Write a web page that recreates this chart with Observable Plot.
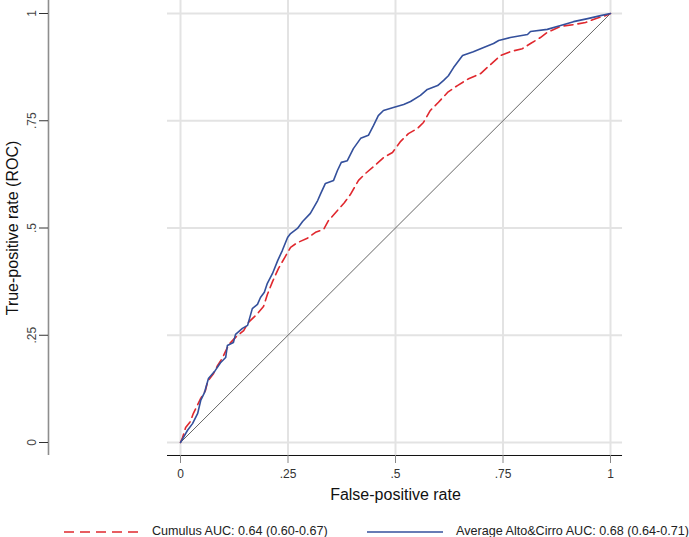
<!DOCTYPE html>
<html><head><meta charset="utf-8">
<script src="https://cdn.jsdelivr.net/npm/d3@7"></script>
<script src="https://cdn.jsdelivr.net/npm/@observablehq/plot@0.6"></script>
<style>
body{margin:0;background:#fff;font-family:"Liberation Sans",Arial,sans-serif;}
#wrap{position:relative;width:689px;height:537px;overflow:hidden;}
#wrap svg{display:block;}
.leg{position:absolute;top:523px;font-size:12.6px;line-height:16px;color:#222;white-space:nowrap;}
.sw{position:absolute;top:530px;}
</style></head><body><div id="wrap"></div>
<script>
const seriesNames = ["Cumulus", "Average Alto&Cirro"];
const seriesLabels = ["Cumulus AUC: 0.64 (0.60-0.67)", "Average Alto&Cirro AUC: 0.68 (0.64-0.71)"];
const seriesColors = ["#e0282e", "#34509c"];
const seriesDash = ["9,5", null];

const cumulusFPR = [0,0.005,0.012,0.023,0.030,0.047,0.058,0.063,0.077,0.086,0.098,0.112,0.128,0.147,0.158,0.177,0.193,0.202,0.214,0.228,0.244,0.256,0.272,0.295,0.314,0.333,0.344,0.365,0.381,0.395,0.414,0.430,0.449,0.472,0.493,0.512,0.530,0.551,0.565,0.581,0.600,0.621,0.644,0.670,0.698,0.721,0.744,0.767,0.795,0.814,0.837,0.853,0.884,0.914,0.942,0.965,0.988,1];
const cumulusTPR = [0,0.012,0.035,0.049,0.068,0.103,0.121,0.142,0.161,0.179,0.198,0.228,0.245,0.261,0.280,0.298,0.317,0.345,0.375,0.406,0.434,0.455,0.466,0.476,0.490,0.497,0.517,0.541,0.559,0.578,0.611,0.627,0.643,0.664,0.676,0.702,0.720,0.732,0.746,0.774,0.793,0.816,0.832,0.848,0.860,0.881,0.902,0.911,0.918,0.930,0.944,0.956,0.970,0.974,0.979,0.988,0.995,1];

const altoFPR = [0,0.007,0.016,0.028,0.040,0.047,0.056,0.065,0.081,0.093,0.105,0.109,0.123,0.128,0.144,0.156,0.167,0.179,0.186,0.195,0.202,0.214,0.226,0.237,0.249,0.256,0.272,0.284,0.302,0.319,0.326,0.337,0.356,0.365,0.374,0.388,0.402,0.419,0.437,0.449,0.460,0.472,0.495,0.519,0.535,0.558,0.574,0.598,0.612,0.623,0.635,0.656,0.681,0.705,0.728,0.740,0.767,0.807,0.814,0.853,0.884,0.914,0.947,0.977,1];
const altoTPR = [0,0.012,0.028,0.044,0.068,0.098,0.117,0.149,0.168,0.186,0.198,0.226,0.233,0.252,0.266,0.273,0.312,0.322,0.338,0.350,0.371,0.394,0.424,0.448,0.478,0.487,0.499,0.515,0.534,0.564,0.580,0.604,0.611,0.634,0.653,0.657,0.685,0.709,0.716,0.739,0.762,0.774,0.781,0.788,0.795,0.809,0.823,0.832,0.844,0.855,0.874,0.902,0.911,0.921,0.930,0.937,0.944,0.951,0.958,0.963,0.972,0.981,0.988,0.995,1];

const tickValues = [0, 0.25, 0.5, 0.75, 1];
const tickLabels = ["0", ".25", ".5", ".75", "1"];
const xTitle = "False-positive rate";
const yTitle = "True-positive rate (ROC)";

const cumulus = cumulusFPR.map((x, i) => ({x, y: cumulusTPR[i]}));
const alto = altoFPR.map((x, i) => ({x, y: altoTPR[i]}));
const diag = [tickValues[0], tickValues[tickValues.length - 1]].map(v => ({x: v, y: v}));
const fmt = d => tickLabels[tickValues.indexOf(d)];

// plot region extents (slightly beyond 0..1, as in the reference)
const gx0 = -0.0302, gx1 = 1.028, gy0 = -0.0303, gy1 = 1.031;
const yAxisAt = -0.307;
const H = 522;

const chart = Plot.plot({
  width: 689, height: H,
  marginLeft: 48, marginRight: 67, marginTop: 0, marginBottom: H - 455,
  style: {fontFamily: "'Liberation Sans', Arial, sans-serif", fontSize: "12px", background: "#fff"},
  x: {domain: [0, 1], range: [180, 610]},
  y: {domain: [0, 1], range: [442, 13]},
  marks: [
    Plot.ruleY(tickValues, {x1: gx0, x2: gx1, stroke: "#e3e3e3", strokeWidth: 2}),
    Plot.ruleX(tickValues, {y1: gy0, y2: gy1, stroke: "#e3e3e3", strokeWidth: 2}),
    Plot.ruleY([gy0], {x1: gx0, x2: gx1, stroke: "#111", strokeWidth: 1}),
    Plot.ruleX([yAxisAt], {y1: gy0, y2: gy1, stroke: "#8e8e8e", strokeWidth: 1.6}),
    Plot.line(diag, {x: "x", y: "y", stroke: "#555", strokeWidth: 0.9}),
    Plot.line(cumulus, {x: "x", y: "y", stroke: seriesColors[0], strokeWidth: 1.6, strokeDasharray: seriesDash[0]}),
    Plot.line(alto, {x: "x", y: "y", stroke: seriesColors[1], strokeWidth: 1.6}),
    Plot.axisX(tickValues, {anchor: "bottom", tickSize: 8, tickPadding: 6, tickFormat: fmt, stroke: "#888", fill: "#333", fontSize: 12, label: null}),
    Plot.axisY(tickValues, {anchor: "left", tickSize: 9, tickPadding: 4, tickRotate: -90, tickFormat: fmt, stroke: "#333", fill: "#444", fontSize: 12, label: null}),
    Plot.text([xTitle], {x: 0.5, frameAnchor: "bottom", dy: 39, lineAnchor: "middle", textAnchor: "middle", text: d => d, fontSize: 16, fill: "#111"}),
    Plot.text([yTitle], {y: 0.5, frameAnchor: "left", dx: -36, rotate: -90, lineAnchor: "middle", textAnchor: "middle", text: d => d, fontSize: 16, fill: "#111"})
  ]
});
const wrap = document.getElementById("wrap");
wrap.appendChild(chart);

// legend below the SVG
const swX = [[64, 143], [367, 443]];
const txtX = [152, 456];
seriesLabels.forEach((lab, i) => {
  const s = document.createElementNS("http://www.w3.org/2000/svg", "svg");
  s.setAttribute("class", "sw");
  s.setAttribute("width", swX[i][1] - swX[i][0]);
  s.setAttribute("height", 4);
  s.style.left = swX[i][0] + "px";
  const l = document.createElementNS("http://www.w3.org/2000/svg", "line");
  l.setAttribute("x1", 0); l.setAttribute("x2", swX[i][1] - swX[i][0]);
  l.setAttribute("y1", 2); l.setAttribute("y2", 2);
  l.setAttribute("stroke", seriesColors[i]);
  l.setAttribute("stroke-width", 1.6);
  if (seriesDash[i]) l.setAttribute("stroke-dasharray", "10,6");
  s.appendChild(l);
  wrap.appendChild(s);
  const t = document.createElement("div");
  t.className = "leg";
  t.style.left = txtX[i] + "px";
  t.textContent = lab;
  wrap.appendChild(t);
});
</script>
</body></html>
